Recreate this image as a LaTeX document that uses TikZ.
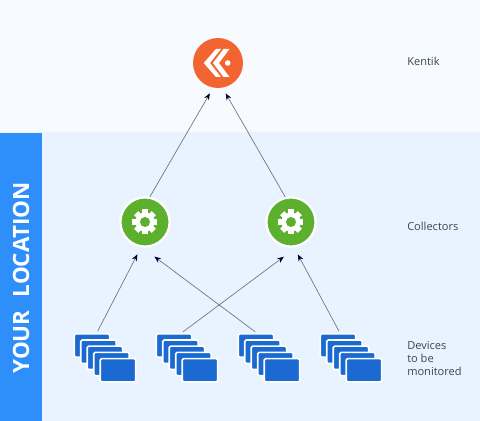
\documentclass[tikz,border=0pt]{standalone}
\usepackage{fontspec}
\usepackage{tikz}
\setmainfont{Open Sans}
\usetikzlibrary{arrows.meta}
\definecolor{topbg}{HTML}{F7FBFF}
\definecolor{lowbg}{HTML}{E8F3FF}
\definecolor{sidebar}{HTML}{2F8FFA}
\definecolor{kentikred}{HTML}{F26430}
\definecolor{collgreen}{HTML}{5DB02E}
\definecolor{devblue}{HTML}{1A6AD2}
\definecolor{linkgrey}{HTML}{6A747E}
\definecolor{labelgrey}{HTML}{3C4650}
\tikzset{
	kentiknode/.style={circle, fill=kentikred, minimum size=37.5pt, inner sep=0pt, outer sep=0pt},
	collnode/.style={circle, fill=collgreen, draw=white, line width=1.7pt, minimum size=36.9pt, inner sep=0pt},
	devnode/.style={rectangle, rounded corners=1pt, fill=devblue, draw=white, line width=1.2pt, minimum width=26.5pt, minimum height=17.5pt, inner sep=0pt, anchor=north west},
	link/.style={-{Stealth[length=5pt, width=4pt, color=black!80!blue]}, draw=linkgrey, line width=0.5pt},
	sidelabel/.style={anchor=west, align=left, inner sep=0pt, text=labelgrey, font=\fontsize{8.3}{10.1}\selectfont}
}

\begin{document}
\begin{tikzpicture}[x=0.75pt, y=-0.75pt]
	\useasboundingbox (0, 0) rectangle (480, 421);
	\fill [topbg] (0, 0) rectangle (480, 132);
	\fill [lowbg] (0, 132) rectangle (480, 421);
	\fill [sidebar] (0, 133) rectangle (42.5, 421);
	\node [rotate=90, text=white, font=\fontsize{16.8}{20}\selectfont\bfseries] (location) at (21, 278) {YOUR\,\, LOCATION};

	\node [kentiknode] (kentik) at (218, 63) {};
	\fill [white, shift={(kentik.center)}] (-14.3, 0) -- (-2, -14) -- (3, -14) -- (-8, 0) -- (3, 14) -- (-2, 14) -- cycle;
	\fill [white, shift={(kentik.center)}] (-5, 0) -- (5.5, -14) -- (11.5, -14) -- (1, 0) -- (11.5, 14) -- (5.5, 14) -- cycle;
	\fill [white, shift={(kentik.center)}] (9.7, 0) circle (2.8);

	\foreach \n/\x in {1/145, 2/291} {
		\node [collnode] (coll\n) at (\x, 222) {};
		\foreach \a in {0, 45, ..., 315}
			\fill [white, shift={(coll\n.center)}, rotate=\a] (-3, -7) rectangle (3, -12.5);
		\fill [white, shift={(coll\n.center)}] (0, 0) circle (9.5);
		\fill [collgreen, shift={(coll\n.center)}] (0, 0) circle (5);
	}

	\foreach \n/\x in {1/73.5, 2/155.5, 3/237.5, 4/319.5}
		\foreach \k in {0, ..., 4}
			\node [devnode] (dev\n\k) at (\x + \k * 6.5, 333 + \k * 6.2) {};

	\node [sidelabel] (kentiklabel) at (407, 61) {Kentik};
	\node [sidelabel] (colllabel) at (407, 226) {Collectors};
	\node [sidelabel] (devlabel) at (407, 358.5) {Devices\\to be\\monitored};

	\draw [link, shorten >=5pt] (coll1.79) -- (kentik.-101);
	\draw [link, shorten >=5pt] (coll2.103) -- (kentik.-80);
	\draw [link, shorten >=5.8pt, shorten <=1.5pt] (dev10.69) -- (coll1.-99);
	\draw [link, shorten >=12.1pt, shorten <=1.5pt] (dev20.59) -- (coll2.-77);
	\draw [link, shorten >=11.3pt, shorten <=1.5pt] (dev30.86) -- (coll1.-96);
	\draw [link, shorten >=5.9pt, shorten <=1.5pt] (dev40.81) -- (coll2.-83);
\end{tikzpicture}
\end{document}
